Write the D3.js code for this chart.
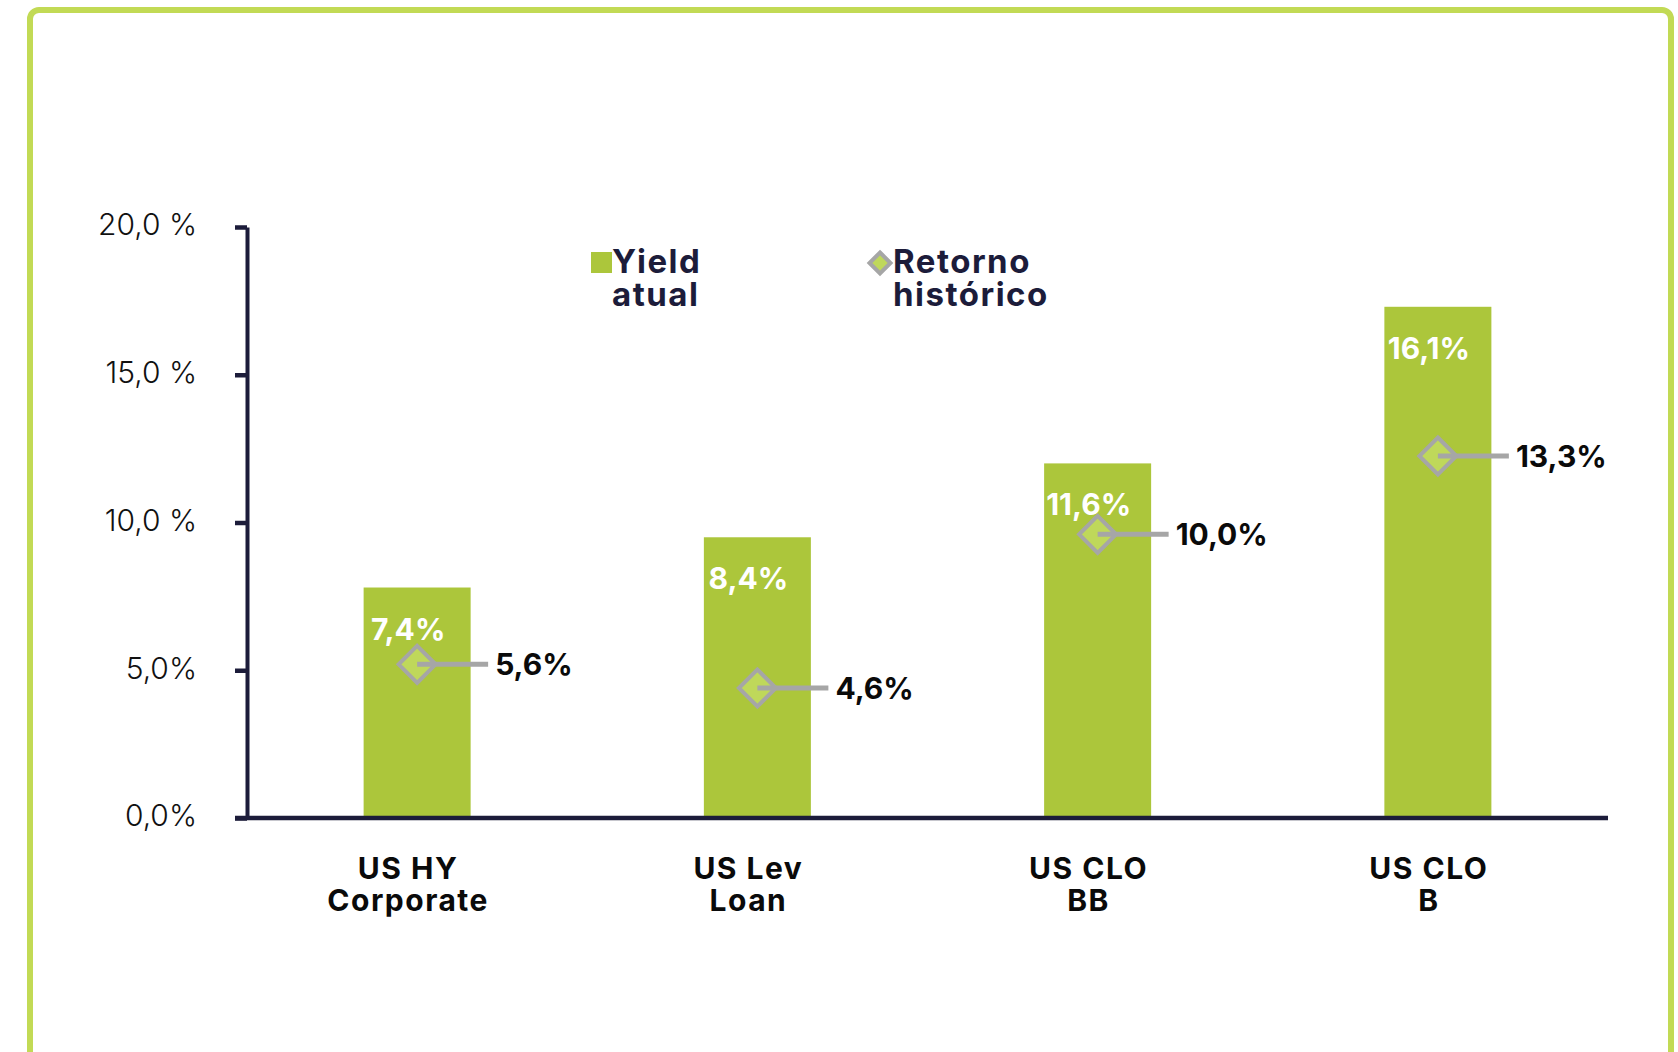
<!DOCTYPE html>
<html>
<head>
<meta charset="utf-8">
<script src="https://cdn.jsdelivr.net/npm/d3@7"></script>
<style>
  body { margin: 0; background: #fff; }
  text { font-family: Inter, "Open Sans", sans-serif; }
</style>
</head>
<body>
<div id="vis"></div>
<script>
// data
var categories   = [["US HY", "Corporate"], ["US Lev", "Loan"], ["US CLO", "BB"], ["US CLO", "B"]];
var yieldBars    = [7.8, 9.5, 12.0, 17.3];        // bar heights as drawn
var yieldLabels  = ["7,4%", "8,4%", "11,6%", "16,1%"];
var histPoints   = [5.2, 4.4, 9.6, 12.25];        // diamond positions as drawn
var histLabels   = ["5,6%", "4,6%", "10,0%", "13,3%"];
var yTicks       = [0, 5, 10, 15, 20];
var yTickLabels  = ["0,0%", "5,0%", "10,0 %", "15,0 %", "20,0 %"];
var legendNames  = [["Yield", "atual"], ["Retorno", "histórico"]];

var W = 1678, H = 1052;
var green = "#acc63b", diamondFill = "#bfd85a", grey = "#a6a6a6", navy = "#1c1c3a";

var svg = d3.select("#vis").append("svg")
  .attr("width", W)
  .attr("height", H);

// frame
svg.append("rect")
  .attr("x", 30).attr("y", 10)
  .attr("width", 1641).attr("height", 1100)
  .attr("rx", 9)
  .attr("fill", "none")
  .attr("stroke", "#c2da55")
  .attr("stroke-width", 6);

var keys = categories.map(function (d) { return d.join(" "); });

var x = d3.scaleBand()
  .domain(keys)
  .range([247, 1608])
  .paddingInner(0.6855)
  .paddingOuter(0.6855 / 2);

var y = d3.scaleLinear()
  .domain([0, 20])
  .range([818, 227]);

////////// axes //////////

var yAxis = svg.append("g")
  .attr("transform", "translate(" + x.range()[0] + ",0)")
  .call(d3.axisLeft(y)
    .tickValues(yTicks)
    .tickSize(12)
    .tickSizeOuter(0)
    .tickPadding(38)
    .tickFormat(function (d, i) { return yTickLabels[i]; }));

yAxis.select(".domain").attr("stroke", navy).attr("stroke-width", 4);
yAxis.selectAll(".tick line").attr("stroke", navy).attr("stroke-width", 4.5);
yAxis.selectAll(".tick text")
  .attr("dy", "0.26em")
  .attr("fill", "#111")
  .style("font-size", "30px")
  .style("font-weight", 300);

// bars
svg.selectAll(".bar")
  .data(yieldBars)
  .enter().append("rect")
  .attr("class", "bar")
  .attr("x", function (d, i) { return x(keys[i]); })
  .attr("y", function (d) { return y(d); })
  .attr("width", x.bandwidth())
  .attr("height", function (d) { return y(0) - y(d); })
  .attr("fill", green);

// x axis line
svg.append("line")
  .attr("x1", x.range()[0] - 12)
  .attr("x2", x.range()[1])
  .attr("y1", y(0)).attr("y2", y(0))
  .attr("stroke", navy)
  .attr("stroke-width", 4.5);

// bar value labels
svg.selectAll(".barlabel")
  .data(yieldBars)
  .enter().append("text")
  .attr("class", "barlabel")
  .attr("x", function (d, i) { return x(keys[i]) + x.bandwidth() / 2 - 9; })
  .attr("y", function (d) { return y(d) + 52; })
  .attr("text-anchor", "middle")
  .attr("fill", "#fff")
  .style("font-size", "30px")
  .style("font-weight", 700)
  .text(function (d, i) { return yieldLabels[i]; });

// historical return: diamond, leader line, label
var cx = function (i) { return x(keys[i]) + x.bandwidth() / 2; };

var diamond = function (r) { return "M0," + (-r) + "L" + r + ",0L0," + r + "L" + (-r) + ",0Z"; };

svg.selectAll(".diamond")
  .data(histPoints)
  .enter().append("path")
  .attr("d", diamond(18.5))
  .attr("transform", function (d, i) { return "translate(" + cx(i) + "," + y(d) + ")"; })
  .attr("fill", diamondFill)
  .attr("stroke", grey)
  .attr("stroke-width", 4);

svg.selectAll(".leader")
  .data(histPoints)
  .enter().append("line")
  .attr("x1", function (d, i) { return cx(i); })
  .attr("x2", function (d, i) { return cx(i) + 71; })
  .attr("y1", function (d) { return y(d); })
  .attr("y2", function (d) { return y(d); })
  .attr("stroke", grey)
  .attr("stroke-width", 5);

svg.selectAll(".histlabel")
  .data(histPoints)
  .enter().append("text")
  .attr("x", function (d, i) { return cx(i) + 78; })
  .attr("y", function (d) { return y(d) + 11; })
  .attr("fill", "#0a0a0a")
  .style("font-size", "30px")
  .style("font-weight", 700)
  .text(function (d, i) { return histLabels[i]; });

// category labels
var cat = svg.selectAll(".cat")
  .data(categories)
  .enter().append("text")
  .attr("text-anchor", "middle")
  .attr("fill", "#0a0a0a")
  .style("font-size", "30px")
  .style("font-weight", 700)
  .style("letter-spacing", "1.5px");

cat.selectAll("tspan")
  .data(function (d, i) { return d.map(function (s) { return { s: s, i: i }; }); })
  .enter().append("tspan")
  .attr("x", function (d) { return cx(d.i) - 9; })
  .attr("y", function (d, j) { return 879 + j * 32; })
  .text(function (d) { return d.s; });

////////// legend //////////

var legend = svg.append("g")
  .style("font-size", "33px")
  .style("font-weight", 700)
  .style("letter-spacing", "1.5px");

legend.append("rect")
  .attr("x", 591).attr("y", 252)
  .attr("width", 21).attr("height", 21)
  .attr("fill", green);

legend.append("path")
  .attr("d", diamond(10.5))
  .attr("transform", "translate(880,263)")
  .attr("fill", diamondFill)
  .attr("stroke", grey)
  .attr("stroke-width", 4);

var legX = [612, 893];
legendNames.forEach(function (lines, k) {
  var t = legend.append("text").attr("fill", navy);
  lines.forEach(function (s, j) {
    t.append("tspan")
      .attr("x", legX[k])
      .attr("y", 273 + j * 33)
      .text(s);
  });
});
</script>
</body>
</html>
